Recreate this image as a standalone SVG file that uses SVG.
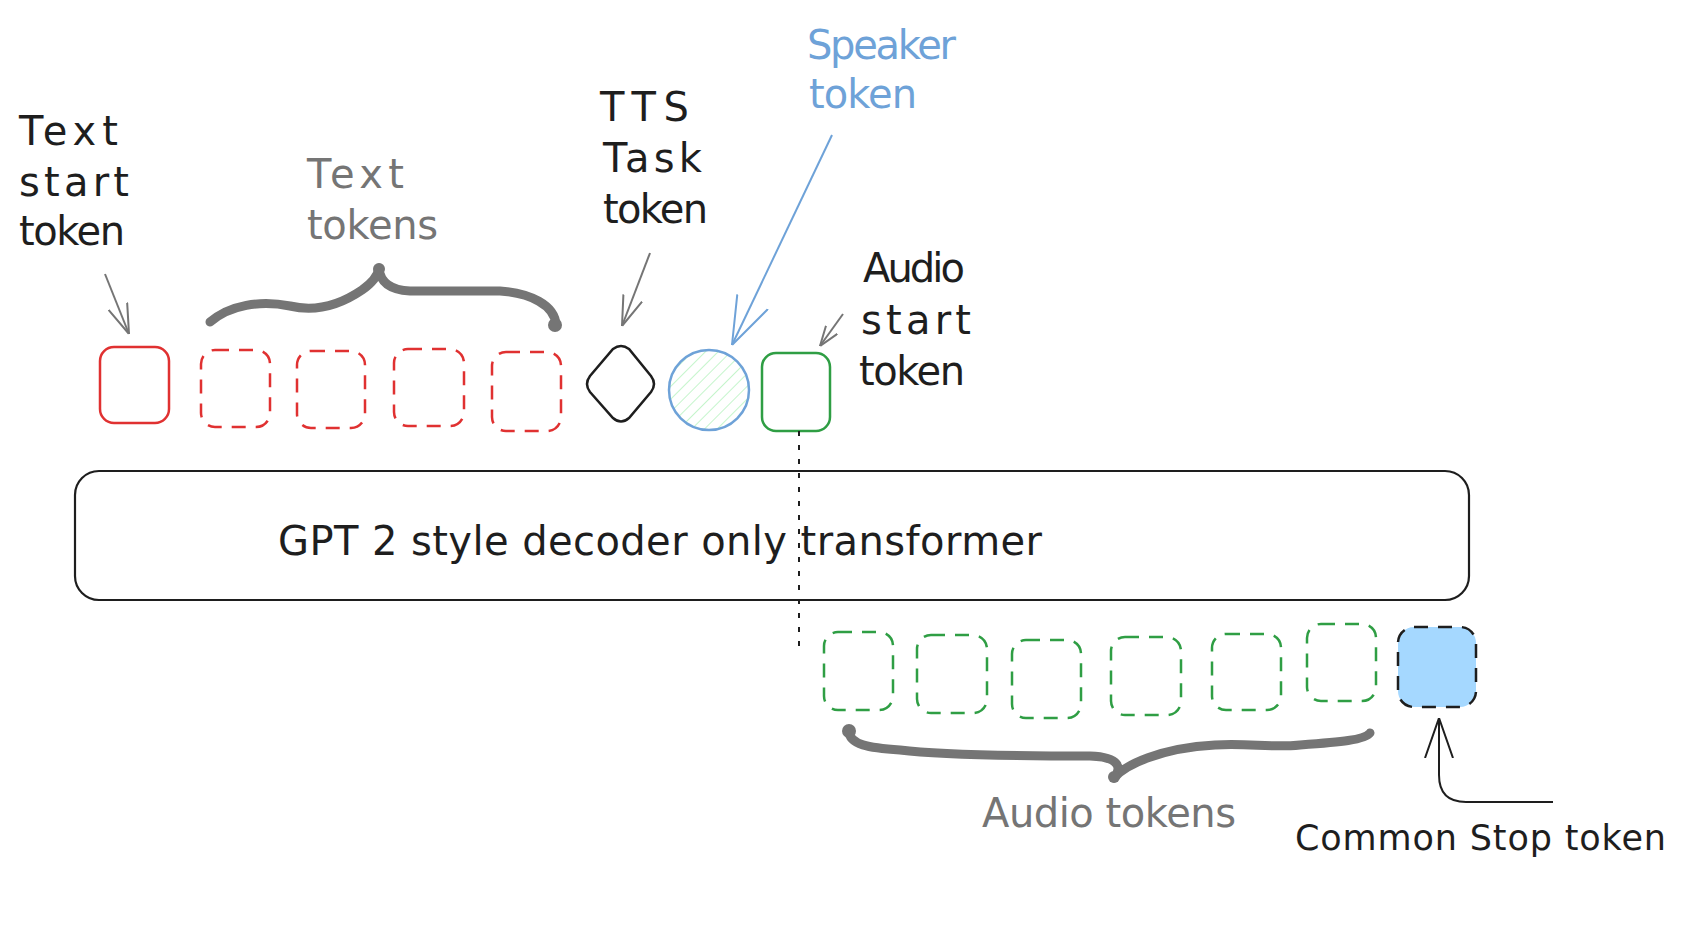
<svg xmlns="http://www.w3.org/2000/svg" width="1688" height="934" viewBox="0 0 1688 934">
<style>
text{font-family:"DejaVu Sans","Liberation Sans",sans-serif;font-size:40px;fill:#1e1e1e}
.gray{fill:#757575}
.blue{fill:#6ea2d8}
.small{font-size:35px}
.red{fill:none;stroke:#e03131;stroke-width:2.5}
.green{fill:none;stroke:#2f9e44;stroke-width:2.5}
.dash{stroke-dasharray:14 10}
.arr{fill:none;stroke:#757575;stroke-width:2}
.brace{fill:none;stroke:#757575;stroke-width:9;stroke-linecap:round;stroke-linejoin:round}
.blob{fill:#757575}
</style>
<defs>
<pattern id="hatch" width="9" height="9" patternUnits="userSpaceOnUse" patternTransform="rotate(45)">
<line x1="0" y1="0" x2="0" y2="9" stroke="#b2f2bb" stroke-width="1.5"/>
</pattern>
<marker id="ag" viewBox="0 0 30 22" refX="30" refY="11" markerWidth="30" markerHeight="22" markerUnits="userSpaceOnUse" orient="auto">
<path d="M0,1 L30,11 L0,21" fill="none" stroke="#757575" stroke-width="2"/>
</marker>
<marker id="ags" viewBox="0 0 20 16" refX="20" refY="8" markerWidth="20" markerHeight="16" markerUnits="userSpaceOnUse" orient="auto">
<path d="M0,1 L20,8 L0,15" fill="none" stroke="#757575" stroke-width="2"/>
</marker>
<marker id="ab" viewBox="0 0 48 36" refX="48" refY="18" markerWidth="48" markerHeight="36" markerUnits="userSpaceOnUse" orient="auto">
<path d="M0,1 L48,18 L0,35" fill="none" stroke="#6ea2d8" stroke-width="2"/>
</marker>
<marker id="ak" viewBox="0 0 40 30" refX="40" refY="15" markerWidth="40" markerHeight="30" markerUnits="userSpaceOnUse" orient="auto">
<path d="M0,1 L40,15 L0,29" fill="none" stroke="#1e1e1e" stroke-width="2"/>
</marker>
</defs>
<rect width="1688" height="934" fill="#ffffff"/>

<g id="label-text-start">
<text x="19" y="145" textLength="99">Text</text>
<text x="19" y="196" textLength="110">start</text>
<text x="19" y="245" textLength="106">token</text>
</g>
<g id="label-text-tokens">
<text class="gray" x="307" y="188" textLength="97">Text</text>
<text class="gray" x="307" y="239" textLength="131">tokens</text>
</g>
<g id="label-tts">
<text x="600" y="121" textLength="89">TTS</text>
<text x="603" y="172" textLength="99">Task</text>
<text x="603" y="223" textLength="105">token</text>
</g>
<g id="label-speaker">
<text class="blue" x="807" y="59" textLength="149">Speaker</text>
<text class="blue" x="809" y="108" textLength="108">token</text>
</g>
<g id="label-audio-start">
<text x="863" y="282" textLength="102">Audio</text>
<text x="861" y="334" textLength="110">start</text>
<text x="859" y="385" textLength="106">token</text>
</g>

<g id="text-start-token"><rect class="red" x="100" y="347" width="69" height="76" rx="14"/></g>
<g id="text-token-1"><rect class="red dash" x="201" y="350" width="69" height="77" rx="14"/></g>
<g id="text-token-2"><rect class="red dash" x="297" y="351" width="68" height="77" rx="14"/></g>
<g id="text-token-3"><rect class="red dash" x="394" y="349" width="70" height="77" rx="14"/></g>
<g id="text-token-4"><rect class="red dash" x="492" y="352" width="69" height="79" rx="14"/></g>
<g id="tts-token"><path d="M613,349 Q621,343 629,349 L651,376 Q657,384 651,392 L629,418 Q621,425 613,418 L590,392 Q584,384 590,376 Z" fill="none" stroke="#1e1e1e" stroke-width="2.5"/></g>
<g id="speaker-token"><circle cx="709" cy="390" r="40" fill="url(#hatch)" stroke="#6ea2d8" stroke-width="2.5"/></g>
<g id="audio-start-token"><rect class="green" x="762" y="353" width="68" height="78" rx="14"/></g>

<g id="transformer">
<rect x="75" y="471" width="1394" height="129" rx="24" fill="none" stroke="#1e1e1e" stroke-width="2.2"/>
<text x="278" y="555" textLength="764">GPT 2 style decoder only transformer</text>
</g>

<g id="audio-token-1"><rect class="green dash" x="824" y="632" width="69" height="78" rx="14"/></g>
<g id="audio-token-2"><rect class="green dash" x="917" y="635" width="70" height="78" rx="14"/></g>
<g id="audio-token-3"><rect class="green dash" x="1012" y="640" width="69" height="78" rx="14"/></g>
<g id="audio-token-4"><rect class="green dash" x="1111" y="637" width="70" height="78" rx="14"/></g>
<g id="audio-token-5"><rect class="green dash" x="1212" y="634" width="69" height="76" rx="14"/></g>
<g id="audio-token-6"><rect class="green dash" x="1307" y="624" width="69" height="77" rx="14"/></g>
<g id="stop-token"><rect x="1398" y="627" width="78" height="80" rx="16" fill="#a5d8ff" stroke="#1e1e1e" stroke-width="2.5" stroke-dasharray="14 10"/></g>

<g id="label-audio-tokens"><text class="gray" x="982" y="827" textLength="254">Audio tokens</text></g>
<g id="label-stop"><text class="small" x="1295" y="850" textLength="371">Common Stop token</text></g>

<g id="connectors">
<line class="arr" x1="105" y1="274" x2="129" y2="334" marker-end="url(#ag)"/>
<line class="arr" x1="650" y1="253" x2="622" y2="326" marker-end="url(#ag)"/>
<line x1="832" y1="135" x2="732" y2="345" fill="none" stroke="#6ea2d8" stroke-width="2" marker-end="url(#ab)"/>
<line class="arr" x1="843" y1="314" x2="820" y2="346" marker-end="url(#ags)"/>
<line x1="799" y1="431" x2="799" y2="655" stroke="#1e1e1e" stroke-width="2" stroke-dasharray="5 9"/>
<path d="M1553,802 L1466,802 Q1439,802 1439,775 L1439,718" fill="none" stroke="#1e1e1e" stroke-width="2" marker-end="url(#ak)"/>
<path class="brace" d="M210,322 C230,305 260,300 290,306 C315,312 340,305 362,290 C372,283 378,275 379,268 C380,282 390,290 410,291 L500,291 C530,293 555,305 556,325"/>
<circle class="blob" cx="555" cy="325" r="7"/>
<circle class="blob" cx="379" cy="269" r="6"/>
<path class="brace" d="M849,730 C848,745 870,748 900,750 C940,755 1000,756 1090,756 C1120,757 1122,768 1114,778 C1125,765 1160,748 1215,745 C1250,743 1270,748 1300,745 C1340,742 1365,740 1370,733"/>
<circle class="blob" cx="849" cy="731" r="7"/>
<circle class="blob" cx="1114" cy="777" r="6"/>
</g>
</svg>
